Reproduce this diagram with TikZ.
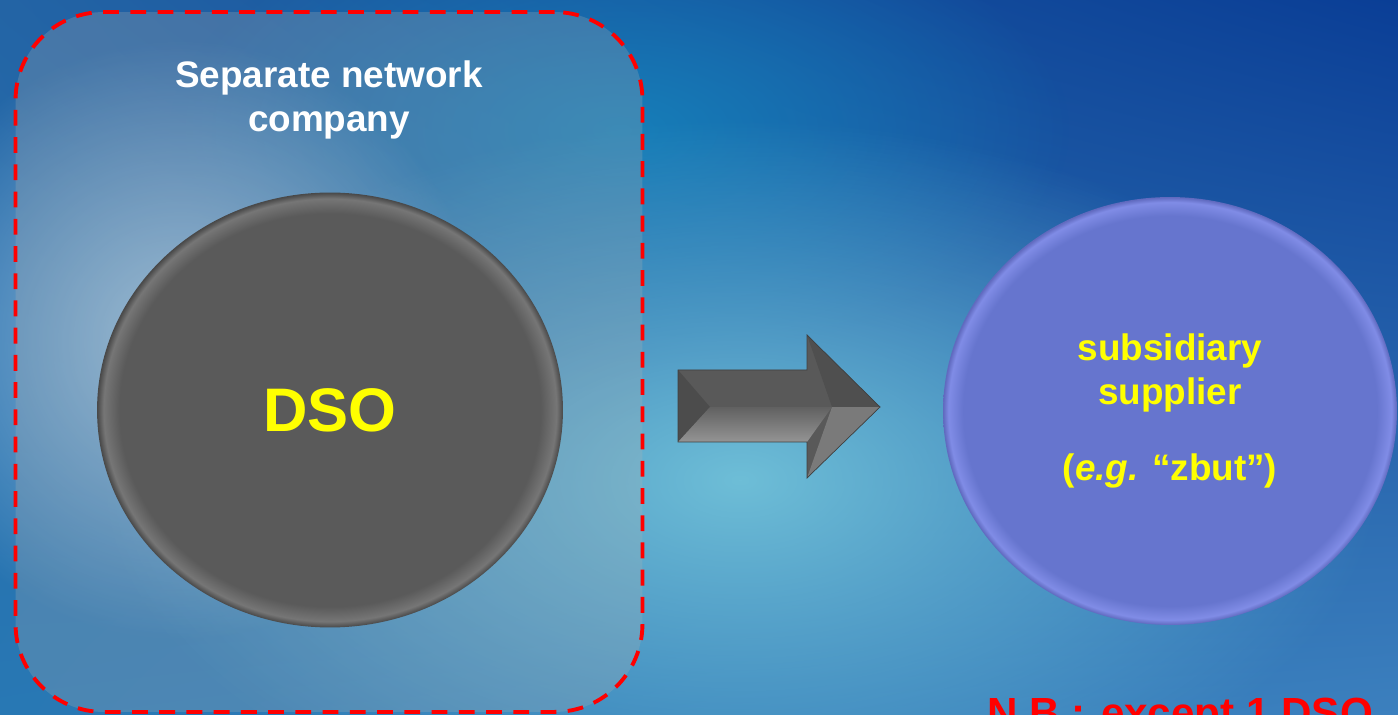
\documentclass[tikz,border=0pt]{standalone}
\usepackage{fontspec}
\setmainfont{Liberation Sans}
\usetikzlibrary{shapes.geometric,fadings,shadings}

\definecolor{bgUL}{RGB}{35,100,165}
\definecolor{bgUR}{RGB}{10,62,150}
\definecolor{bgLL}{RGB}{40,120,180}
\definecolor{bgLR}{RGB}{60,128,190}
\definecolor{bgC}{RGB}{110,190,215}
\definecolor{bgT}{RGB}{20,135,190}
\definecolor{bgW}{RGB}{150,190,220}
\definecolor{dsoFill}{RGB}{90,90,90}
\definecolor{dsoRim}{RGB}{118,118,118}
\definecolor{dsoEdge}{RGB}{72,72,72}
\definecolor{subFill}{RGB}{102,117,206}
\definecolor{subRim}{RGB}{128,140,230}
\definecolor{subEdge}{RGB}{95,105,190}
\definecolor{hl}{RGB}{255,255,0}

\pgfdeclareradialshading{dsoshade}{\pgfpoint{0bp}{0bp}}{color(0bp)=(dsoFill); color(22.6bp)=(dsoFill); color(24.3bp)=(dsoRim); color(25bp)=(dsoEdge); color(50bp)=(dsoEdge)}
\pgfdeclareradialshading{subshade}{\pgfpoint{0bp}{0bp}}{color(0bp)=(subFill); color(22.8bp)=(subFill); color(24.4bp)=(subRim); color(25bp)=(subEdge); color(50bp)=(subEdge)}
\tikzfading[name=glow, inner color=transparent!0, outer color=transparent!100]

\begin{document}
\begin{tikzpicture}[x=0.02cm,y=-0.02cm,
  lbl/.style={align=center, inner sep=0pt},
  blob/.style={ellipse, shade, inner sep=0pt}]
\useasboundingbox (0,0) rectangle (1398,715);
\clip (0,0) rectangle (1398,715);
% background
\shade[upper left=bgUL, upper right=bgUR, lower left=bgLL, lower right=bgLR] (0,0) rectangle (1398,715);
\fill[bgT, opacity=0.8, path fading=glow] (620,130) ellipse (450 and 230);
\fill[bgC, path fading=glow] (740,480) ellipse (640 and 360);
\fill[bgW, path fading=glow] (180,340) ellipse (300 and 300);
% network company
\node[draw=red, line width=2.2pt, dash pattern=on 9pt off 6.5pt, rounded corners=50pt,
      fill=gray!60!white, fill opacity=0.25, minimum width=12.54cm, minimum height=14cm] (box) at (329,362) {};
\node[lbl, white, font=\fontsize{21}{25}\selectfont\bfseries] (ttl) at (329,100) {Separate network\\company};
\node[blob, shading=dsoshade, minimum width=9.32cm, minimum height=8.7cm,
      text=hl, font=\fontsize{35}{42}\selectfont\bfseries] (dso) at (330,410) {DSO};
% arrow
\fill[black!65] (678,370) -- (807,370) -- (807,335) -- (880,407) -- (807,478) -- (807,442) -- (678,442) -- cycle;
\fill[black!70] (678,370) -- (710,407) -- (678,442) -- cycle;
\shade[top color=black!62, bottom color=black!42] (678,442) -- (710,407) -- (832,407) -- (807,442) -- cycle;
\fill[black!52] (832,407) -- (880,407) -- (807,478) -- cycle;
\fill[black!69] (807,335) -- (880,407) -- (832,407) -- cycle;
\draw[black!75, line width=0.4pt] (678,370) -- (807,370) -- (807,335) -- (880,407) -- (807,478) -- (807,442) -- (678,442) -- cycle;
% supplier
\node[blob, shading=subshade, minimum width=9.08cm, minimum height=8.56cm,
      text=hl, lbl, font=\fontsize{21}{25}\selectfont\bfseries] (sub) at (1170,411)
      {subsidiary\\supplier\\[18pt](\textit{e.g.} ``zbut'')};
\node[red, inner sep=0pt, anchor=base, font=\fontsize{24}{28}\selectfont\bfseries] (nb) at (1180,727) {N.B.: except 1 DSO};
\end{tikzpicture}
\end{document}
